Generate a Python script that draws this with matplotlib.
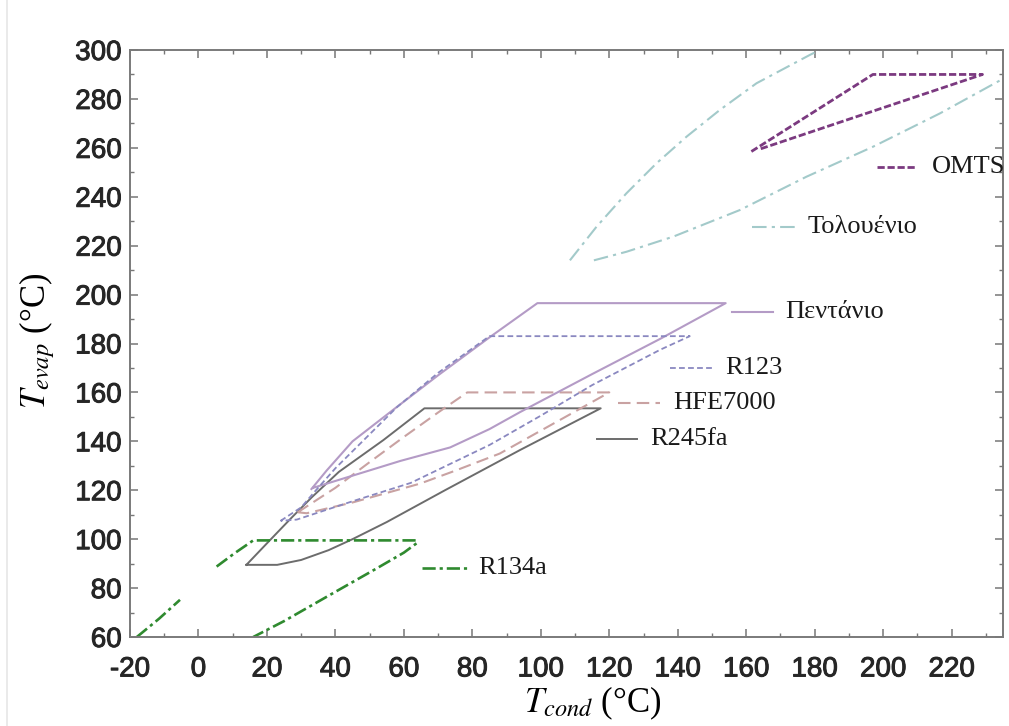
import matplotlib
matplotlib.use('Agg')
import matplotlib.pyplot as plt
import matplotlib.patheffects as pe
from matplotlib.ticker import MultipleLocator
import numpy as np

plt.rcParams['mathtext.fontset'] = 'stix'
plt.rcParams['font.family'] = ['Liberation Sans', 'DejaVu Sans']
plt.rcParams['axes.unicode_minus'] = False

nan = np.nan

# ---------------- data (T_cond, T_evap in °C) ----------------
toluene_left_x = [108.5, 116.3, 125.0, 133.8, 142.6, 152.3, 163.0, 178.6, 181.5]
toluene_left_y = [214.0, 227.8, 241.4, 253.7, 264.6, 275.5, 286.4, 298.0, 300.0]
toluene_low_x = [115.5, 125.0, 138.7, 158.2, 177.6, 197.1, 216.6, 236.0]
toluene_low_y = [214.0, 217.5, 223.7, 234.6, 248.2, 260.5, 274.1, 289.0]

omts_x = [161.5, 197.0, 229.0, 164.0]
omts_y = [258.5, 290.0, 290.0, 259.5]

pentane_x = [33.0, 37.4, 45.0, 57.9, 70.0, 85.0, 99.0, 154.0, 135.0, 115.0, 94.0, 85.0, 73.5, 59.0, 33.5]
pentane_y = [120.5, 128.0, 140.0, 154.0, 167.0, 182.5, 196.5, 196.5, 182.0, 167.5, 152.0, 145.0, 137.5, 132.0, 121.0]

r123_x = [24.0, 30.0, 34.0, 40.0, 58.0, 70.0, 85.0, 143.5, 134.8, 115.0, 100.0, 85.0, 62.0, 45.0, 28.7, 24.0]
r123_y = [107.5, 113.0, 119.5, 129.0, 154.0, 168.0, 183.0, 183.0, 177.4, 163.0, 150.5, 138.5, 123.0, 115.5, 108.0, 107.5]

hfe_x = [29.0, 40.0, 50.0, 60.0, 70.0, 78.5, 120.0, 104.0, 88.0, 75.0, 64.7, 45.0, 31.6, 29.0]
hfe_y = [111.0, 121.0, 131.5, 141.8, 151.8, 160.0, 160.0, 147.5, 135.0, 128.0, 122.7, 115.0, 110.6, 111.0]

r245fa_x = [14.0, 20.0, 27.0, 33.0, 41.0, 54.0, 66.0, 117.5, 94.0, 72.0, 55.0, 45.0, 38.0, 30.0, 23.0, 14.0]
r245fa_y = [89.5, 98.3, 108.5, 117.0, 127.5, 140.5, 153.5, 153.5, 136.5, 120.0, 107.0, 100.0, 95.5, 91.5, 89.5, 89.5]

r134a_x = [-18.0, -11.5, -5.4, nan, 5.3, 10.5, 16.0, 63.7, 63.7, 60.0, 52.0, 39.4, 25.0, 16.0]
r134a_y = [60.0, 67.5, 75.2, nan, 88.8, 94.2, 99.5, 99.5, 98.3, 94.5, 88.0, 78.0, 66.5, 60.0]

labels = ['OMTS', 'Τολουένιο', 'Πεντάνιο', 'R123', 'HFE7000', 'R245fa', 'R134a']
x_ticks = list(range(-20, 221, 20))
y_ticks = list(range(60, 301, 20))

# ---------------- styles ----------------
c_omts = '#7b3a80'
c_tol = '#a3caca'
c_pent = '#b49bc6'
c_r123 = '#8a88c0'
c_hfe = '#c9a2a2'
c_r245 = '#6c6c6c'
c_r134 = '#2f8a2f'

st_omts = dict(color=c_omts, lw=2.0, dashes=(2.6, 1.0))
st_tol = dict(color=c_tol, lw=1.5, dashes=(7, 2.5, 1.5, 2.5))
st_pent = dict(color=c_pent, lw=1.5, ls='-')
st_r123 = dict(color=c_r123, lw=1.3, dashes=(3.2, 1.8))
st_hfe = dict(color=c_hfe, lw=1.5, dashes=(6, 3))
st_r245 = dict(color=c_r245, lw=1.4, ls='-')
st_r134 = dict(color=c_r134, lw=1.9, dashes=(5, 1.5, 1.2, 1.5))

fig = plt.figure(figsize=(10.09, 7.26), dpi=100)
ax = fig.add_axes([130 / 1009, 1 - 637 / 726, 873 / 1009, 587 / 726])

ax.plot(toluene_left_x, toluene_left_y, **st_tol)
ax.plot(toluene_low_x, toluene_low_y, **st_tol)
ax.plot(omts_x, omts_y, **st_omts)
ax.plot(r245fa_x, r245fa_y, **st_r245)
ax.plot(hfe_x, hfe_y, **st_hfe)
ax.plot(pentane_x, pentane_y, **st_pent)
ax.plot(r123_x, r123_y, **st_r123)
ax.plot(r134a_x, r134a_y, **st_r134)

ax.set_xlim(-20, 235)
ax.set_ylim(60, 300)
ax.set_xticks(x_ticks)
ax.set_yticks(y_ticks)
ax.xaxis.set_minor_locator(MultipleLocator(10))
ax.yaxis.set_minor_locator(MultipleLocator(10))
ax.tick_params(which='both', direction='in', top=True, right=True, color='#777777')
ax.tick_params(which='major', length=6, width=1.1, labelsize=20, labelcolor='#262626')
ax.tick_params(which='minor', length=3, width=1.0)
ax.tick_params(axis='x', pad=14)
ax.tick_params(axis='y', pad=6)
for lab in ax.get_xticklabels() + ax.get_yticklabels():
    lab.set_path_effects([pe.withStroke(linewidth=0.7, foreground='#262626')])
for s in ax.spines.values():
    s.set_color('#7a7a7a')
    s.set_linewidth(1.4)

serif = ['Liberation Serif', 'DejaVu Serif']
ax.set_xlabel(r'$T_{cond}$ (°C)', fontsize=25, family=serif)
ax.xaxis.set_label_coords(0.53, -0.113)
ax.xaxis.label.set_va('center')
ax.set_ylabel(r'$T_{evap}$ (°C)', fontsize=25, family=serif)
ax.yaxis.set_label_coords(-0.107, 0.505)
ax.yaxis.label.set_va('center')

# in-plot labels with line samples (axes-fraction positions)
def px2ax(px, py):
    return (px - 130) / 873, (637 - py) / 587

label_specs = [
    (labels[0], st_omts, 877, 917, 167, 932),
    (labels[1], st_tol, 752, 795, 227, 808),
    (labels[2], st_pent, 732, 773, 312, 785),
    (labels[3], st_r123, 670, 713, 368, 725),
    (labels[4], st_hfe, 618, 660, 403, 673),
    (labels[5], st_r245, 597, 637, 439, 650),
    (labels[6], st_r134, 422, 467, 568, 478),
]
for text, st, x0, x1, yy, xt in label_specs:
    a0 = px2ax(x0, yy)
    a1 = px2ax(x1, yy)
    ax.plot([a0[0], a1[0]], [a0[1], a1[1]], transform=ax.transAxes, clip_on=False, **st)
    tx = px2ax(xt, yy)
    t = ax.text(tx[0], tx[1], text, transform=ax.transAxes, ha='left', va='center',
                fontsize=19, family=serif, color='#1a1a1a', clip_on=False)

# faint border line on the left of the picture
fig.add_artist(plt.Line2D([7 / 1009, 7 / 1009], [0, 1], color='#e6e6e6', lw=1.2))

fig.savefig('out.png', dpi=100)
